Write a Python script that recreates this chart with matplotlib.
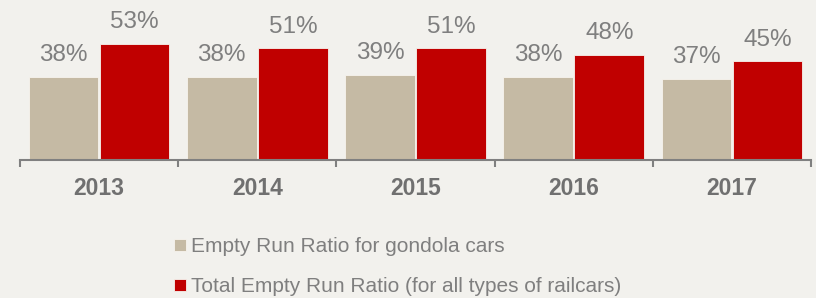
import matplotlib.pyplot as plt
import numpy as np

years = ["2013", "2014", "2015", "2016", "2017"]
gondola = [38, 38, 39, 38, 37]
total = [53, 51, 51, 48, 45]
series_names = ["Empty Run Ratio for gondola cars",
                "Total Empty Run Ratio (for all types of railcars)"]

bg = "#f2f1ed"
tan = "#c5baa4"
red = "#c00000"
grey = "#7f7f7f"

plt.rcParams['font.family'] = ['Liberation Sans', 'DejaVu Sans']

fig = plt.figure(figsize=(8.16, 2.98), dpi=100, facecolor=bg)
ax = fig.add_axes([20 / 816, 1 - 160 / 298, 791 / 816, 160 / 298])
ax.set_facecolor(bg)

x = np.arange(len(years))
w = 0.44
b1 = ax.bar(x - 0.225, gondola, w, color=tan, edgecolor="#f7f4ee", linewidth=0.6,
            label=series_names[0])
b2 = ax.bar(x + 0.225, total, w, color=red, edgecolor="#f7f4ee", linewidth=0.6,
            label=series_names[1])

for bars, vals in ((b1, gondola), (b2, total)):
    for r, v in zip(bars, vals):
        ax.annotate(f"{v}%", (r.get_x() + r.get_width() / 2, v),
                    xytext=(0, 7.5), textcoords="offset points",
                    ha="center", va="bottom", fontsize=17.5, color=grey)

ax.set_xlim(-0.5, len(years) - 0.5)
ax.set_ylim(0, 73)
for s in ("left", "right", "top"):
    ax.spines[s].set_visible(False)
ax.spines["bottom"].set_color("#808080")
ax.spines["bottom"].set_linewidth(1.5)
ax.set_yticks([])
ax.set_xticks(np.arange(-0.5, len(years), 1.0))
ax.set_xticklabels([])
ax.set_xticks(x, minor=True)
ax.set_xticklabels(years, minor=True, fontsize=16.5, fontweight="bold", color="#707070")
ax.tick_params(axis="x", which="major", length=5, width=1.5, color="#808080")
ax.tick_params(axis="x", which="minor", length=0, pad=12)

fig.legend(handles=[b1, b2], loc="upper left", bbox_to_anchor=(164 / 816, 1 - 227 / 298),
           frameon=False, fontsize=15, labelcolor=grey, handlelength=0.55,
           handleheight=0.55, handletextpad=0.25, labelspacing=1.0, borderpad=0)

fig.savefig("out.png", dpi=100, facecolor=bg)
